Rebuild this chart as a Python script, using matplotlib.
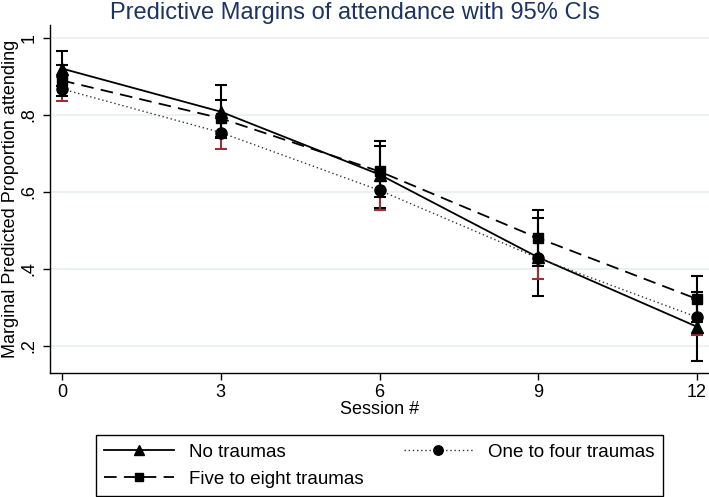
import matplotlib
matplotlib.use("Agg")
import matplotlib.pyplot as plt

plt.rcParams['font.family'] = ['Liberation Sans', 'DejaVu Sans']

sessions = [0, 3, 6, 9, 12]
labels = ["No traumas", "One to four traumas", "Five to eight traumas"]
# predicted margins
no_trauma = [0.920, 0.808, 0.645, 0.430, 0.250]
one_four = [0.867, 0.754, 0.604, 0.428, 0.275]
five_eight = [0.889, 0.791, 0.653, 0.480, 0.322]
# 95% CI lower / upper
no_trauma_lo = [0.874, 0.739, 0.559, 0.329, 0.161]
no_trauma_hi = [0.966, 0.877, 0.731, 0.531, 0.339]
one_four_lo = [0.836, 0.711, 0.553, 0.374, 0.228]
one_four_hi = [0.898, 0.797, 0.655, 0.482, 0.322]
five_eight_lo = [0.849, 0.743, 0.587, 0.407, 0.263]
five_eight_hi = [0.929, 0.839, 0.719, 0.553, 0.381]

yticks = [0.2, 0.4, 0.6, 0.8, 1.0]
ytick_labels = [".2", ".4", ".6", ".8", "1"]

fig = plt.figure(figsize=(7.09, 4.97), dpi=100)
ax = fig.add_axes([50/709, 1-373/497, 659/709, 348/497])

def err(vals, lo, hi):
    return [[v - l for v, l in zip(vals, lo)], [h - v for v, h in zip(vals, hi)]]

red = "#9b2f35"
ax.errorbar(sessions, no_trauma, yerr=err(no_trauma, no_trauma_lo, no_trauma_hi),
            fmt='none', ecolor='black', elinewidth=1.5, capsize=4.5, capthick=1.5, zorder=2)
ax.errorbar(sessions, one_four, yerr=err(one_four, one_four_lo, one_four_hi),
            fmt='none', ecolor=red, elinewidth=1.5, capsize=4.5, capthick=1.5, zorder=2.1)
ax.errorbar(sessions, five_eight, yerr=err(five_eight, five_eight_lo, five_eight_hi),
            fmt='none', ecolor='black', elinewidth=1.5, capsize=4.5, capthick=1.5, zorder=2.2)

h1, = ax.plot(sessions, no_trauma, color='black', lw=1.3, ls='-', marker='^', ms=8.5, zorder=3, label=labels[0])
h2, = ax.plot(sessions, one_four, color='#333333', lw=1.0, ls=(0, (1, 2)), marker='o', ms=8, mfc='black', mec='black', zorder=3, label=labels[1])
h3, = ax.plot(sessions, five_eight, color='black', lw=1.3, ls=(0, (7, 4)), marker='s', ms=7.5, zorder=3, label=labels[2])

ax.set_xlim(-0.227, 12.227)
ax.set_ylim(0.130, 1.033)
ax.set_xticks(sessions)
ax.set_xticklabels([str(s) for s in sessions])
ax.set_yticks(yticks)
ax.set_yticklabels(ytick_labels, rotation=90, va='center')
ax.grid(axis='y', color='#e6eff0', lw=1.2)
ax.set_axisbelow(True)
for s in ['top', 'right']:
    ax.spines[s].set_visible(False)
ax.spines['left'].set_linewidth(1.0)
ax.spines['bottom'].set_linewidth(1.0)
ax.tick_params(axis='both', direction='out', length=5, width=1, labelsize=13, colors='black')
ax.tick_params(axis='x', pad=3)
ax.tick_params(axis='y', pad=4)

ax.set_xlabel("Session #", fontsize=13, labelpad=0)
ax.set_ylabel("Marginal Predicted Proportion attending", fontsize=13, va='center')
ax.yaxis.set_label_coords((11 - 50) / 659, 0.5)
fig.text(0.5, 1-13/497, "Predictive Margins of attendance with 95% CIs", ha='center', va='center',
         fontsize=17, color='#1c3461')

leg = fig.legend(handles=[h1, h3, h2], labels=[labels[0], labels[2], labels[1]], ncol=2,
                 loc='lower left', bbox_to_anchor=(96/709, 1/497, (663-96)/709, 60/497),
                 mode='expand', borderaxespad=0, fontsize=13.5, handlelength=3.7,
                 frameon=True, fancybox=False, edgecolor='black', framealpha=1,
                 handletextpad=0.8, labelspacing=0.52, borderpad=0.45, markerscale=0.85)
leg.get_frame().set_linewidth(1.0)

fig.savefig("out.png", dpi=100)
